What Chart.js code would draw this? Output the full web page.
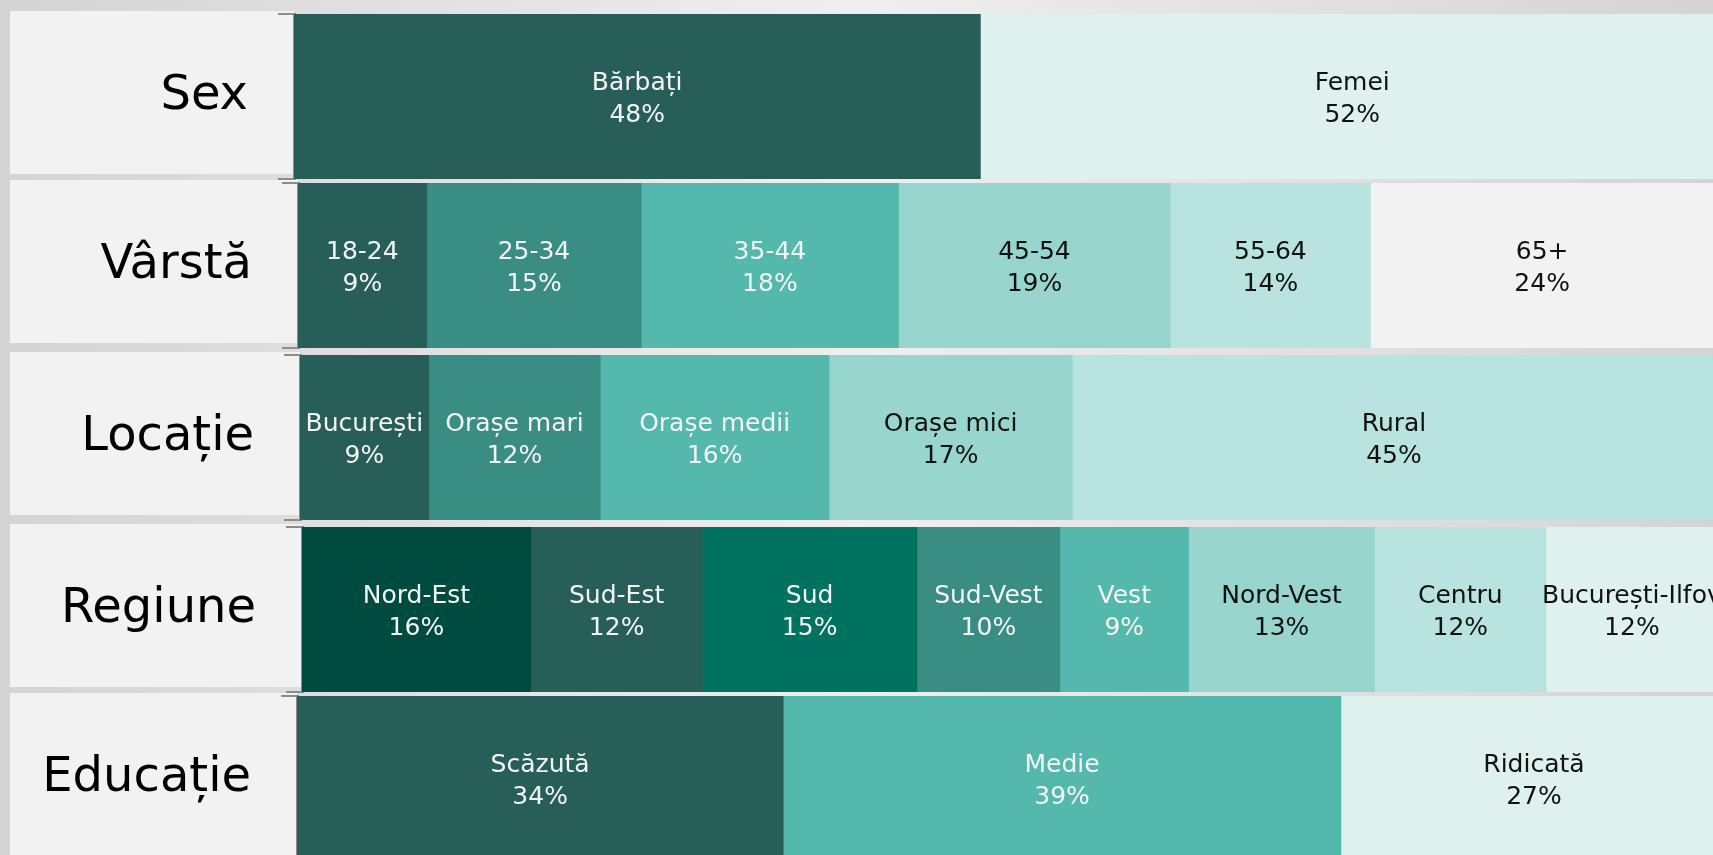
<!DOCTYPE html>
<html>
<head>
<meta charset="utf-8">
<script src="https://cdn.jsdelivr.net/npm/chart.js@4"></script>
<style>
    html, body {
        margin: 0;
        padding: 0;
        width: 1713px;
        height: 855px;
        overflow: hidden;
        background: linear-gradient(to right, #d4d4d4 0%, #efefef 50%, #d4d4d4 100%);
        position: relative;
    }
    .row {
        position: absolute;
        left: 0;
        width: 1760px;
    }
</style>
</head>
<body>
<div id="rows"></div>
<script>
// Row titles
const rowLabels = ['Sex', 'Vârstă', 'Locație', 'Regiune', 'Educație'];

// Segments of each row
const sexCats = ['Bărbați', 'Femei'];
const sexVals = [48, 52];

const ageCats = ['18-24', '25-34', '35-44', '45-54', '55-64', '65+'];
const ageVals = [9, 15, 18, 19, 14, 24];

const locCats = ['București', 'Orașe mari', 'Orașe medii', 'Orașe mici', 'Rural'];
const locVals = [9, 12, 16, 17, 45];

const regCats = ['Nord-Est', 'Sud-Est', 'Sud', 'Sud-Vest', 'Vest', 'Nord-Vest', 'Centru', 'București-Ilfov'];
const regVals = [16, 12, 15, 10, 9, 13, 12, 12];

const eduCats = ['Scăzută', 'Medie', 'Ridicată'];
const eduVals = [34, 39, 27];

// Colours
const sexColors = ['#275e58', '#def1ee'];
const ageColors = ['#275e58', '#3a8d83', '#55b8ac', '#98d5cc', '#b9e3de', '#f2f2f2'];
const locColors = ['#275e58', '#3a8d83', '#55b8ac', '#98d5cc', '#b9e3de'];
const regColors = ['#004b40', '#275e58', '#00725f', '#3a8d83', '#55b8ac', '#98d5cc', '#b9e3de', '#def1ee'];
const eduColors = ['#275e58', '#55b8ac', '#def1ee'];
const lightTextOn = ['#004b40', '#275e58', '#00725f', '#3a8d83', '#55b8ac'];

// Layout of each row (bar top / bar start in px)
const rowTops = [14, 183, 355, 527, 696];
const rowLefts = [294, 298, 300, 302, 297];
const BAR_H = 165;
const PAD_TOP = 6;
const PAD_BOTTOM = 2;
const CANVAS_W = 1760;
const PLOT_W = 1430;

const rowsData = [
    { cats: sexCats, vals: sexVals, colors: sexColors },
    { cats: ageCats, vals: ageVals, colors: ageColors },
    { cats: locCats, vals: locVals, colors: locColors },
    { cats: regCats, vals: regVals, colors: regColors },
    { cats: eduCats, vals: eduVals, colors: eduColors }
];

// grey label panel behind the row title
const panelPlugin = {
    id: 'panel',
    beforeDraw(chart) {
        const ctx = chart.ctx;
        const area = chart.chartArea;
        ctx.save();
        ctx.fillStyle = '#f2f2f2';
        ctx.fillRect(10, area.top - 3, area.left - 10, area.bottom - area.top - 2);
        ctx.restore();
    }
};

// name + percentage inside each segment
const segmentLabels = {
    id: 'segmentLabels',
    afterDatasetsDraw(chart) {
        const ctx = chart.ctx;
        ctx.save();
        ctx.font = '25px "DejaVu Sans"';
        ctx.textAlign = 'center';
        ctx.textBaseline = 'middle';
        chart.data.datasets.forEach((ds, i) => {
            const el = chart.getDatasetMeta(i).data[0];
            if (!el) return;
            const cx = (el.x + el.base) / 2;
            const cy = el.y;
            ctx.fillStyle = lightTextOn.includes(ds.backgroundColor) ? '#f4f4f4' : '#111111';
            ctx.fillText(ds.label, cx, cy - 13);
            ctx.fillText(ds.data[0] + '%', cx, cy + 19);
        });
        ctx.restore();
    }
};

const holder = document.getElementById('rows');

rowsData.forEach((row, r) => {
    const div = document.createElement('div');
    div.className = 'row';
    div.style.top = (rowTops[r] - PAD_TOP) + 'px';
    const canvas = document.createElement('canvas');
    canvas.width = CANVAS_W;
    canvas.height = BAR_H + PAD_TOP + PAD_BOTTOM;
    div.appendChild(canvas);
    holder.appendChild(div);

    const left = rowLefts[r];

    new Chart(canvas.getContext('2d'), {
        type: 'bar',
        data: {
            labels: [rowLabels[r]],
            datasets: row.cats.map((c, i) => ({
                label: c,
                data: [row.vals[i]],
                backgroundColor: row.colors[i],
                borderWidth: 0,
                barPercentage: 1,
                categoryPercentage: 1
            }))
        },
        options: {
            indexAxis: 'y',
            responsive: false,
            animation: false,
            devicePixelRatio: 1,
            layout: {
                padding: { top: PAD_TOP, bottom: PAD_BOTTOM, left: 0, right: CANVAS_W - left - PLOT_W }
            },
            plugins: {
                legend: { display: false },
                tooltip: { enabled: false }
            },
            scales: {
                x: {
                    stacked: true,
                    min: 0,
                    max: 100,
                    display: false
                },
                y: {
                    stacked: true,
                    afterFit: (scale) => {
                        // fixed axis width, and no extra room for the big title
                        scale.width = left;
                        scale.paddingTop = 0;
                        scale.paddingBottom = 0;
                    },
                    ticks: {
                        color: '#000000',
                        padding: 30,
                        font: { family: 'DejaVu Sans', size: 48 }
                    },
                    grid: {
                        display: true,
                        offset: true,
                        drawOnChartArea: false,
                        drawTicks: true,
                        tickLength: 16,
                        color: '#8c8c8c',
                        lineWidth: 2
                    },
                    border: { display: true, color: '#8c8c8c', width: 3 }
                }
            }
        },
        plugins: [panelPlugin, segmentLabels]
    });
});
</script>
</body>
</html>
